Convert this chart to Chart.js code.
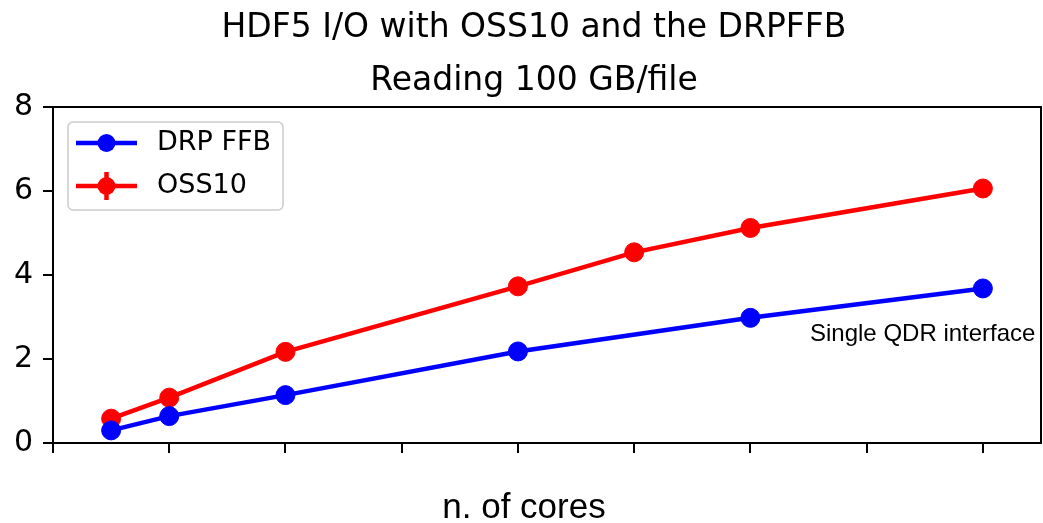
<!DOCTYPE html>
<html>
<head>
<meta charset="utf-8">
<script src="https://cdn.jsdelivr.net/npm/chart.js@4.4.1/dist/chart.umd.min.js"></script>
<style>
  body { margin:0; background:#fff; }
  canvas { display:block; }
</style>
</head>
<body>
<canvas id="grafico" width="1043" height="523"></canvas>
<script>
// dati
const coresOSS = [1, 2, 4, 8, 10, 12, 16];
const valoriOSS = [0.58, 1.08, 2.17, 3.73, 4.54, 5.12, 6.06];
const coresDRP = [1, 2, 4, 8, 12, 16];
const valoriDRP = [0.30, 0.64, 1.14, 2.18, 2.98, 3.68];
const xTicks = [0, 2, 4, 6, 8, 10, 12, 14, 16];
const yTicks = [0, 2, 4, 6, 8];
const titolo = ['HDF5 I/O with OSS10 and the DRPFFB', 'Reading 100 GB/file'];

function punti(xs, ys){
  return xs.map((x,i)=>({x:x, y:ys[i]}));
}

// titolo, bordi sopra e a destra, legenda e testi liberi
const extra = {
  id:'extra',
  afterDraw(chart){
    const ctx = chart.ctx, a = chart.chartArea;
    ctx.save();
    ctx.strokeStyle = '#000';
    ctx.lineWidth = 2;
    ctx.beginPath();
    ctx.moveTo(a.left, a.top);
    ctx.lineTo(a.right, a.top);
    ctx.lineTo(a.right, a.bottom);
    ctx.stroke();

    ctx.fillStyle = '#000';
    ctx.font = '33px "DejaVu Sans"';
    ctx.textAlign = 'center';
    ctx.textBaseline = 'alphabetic';
    ctx.fillText(titolo[0], 534, 37);
    ctx.fillText(titolo[1], 534, 90);

    // legenda
    ctx.fillStyle = 'rgba(255,255,255,0.8)';
    ctx.strokeStyle = '#cccccc';
    ctx.lineWidth = 1.5;
    ctx.beginPath();
    ctx.roundRect(68, 122, 215, 88, 5);
    ctx.fill();
    ctx.stroke();
    const righe = [143, 186];
    chart.data.datasets.forEach((ds,i)=>{
      const y = righe[i];
      ctx.strokeStyle = ds.borderColor;
      ctx.fillStyle = ds.borderColor;
      ctx.lineWidth = 4.5;
      ctx.beginPath();
      ctx.moveTo(76, y); ctx.lineTo(137, y);
      ctx.stroke();
      if(i===1){
        ctx.beginPath();
        ctx.moveTo(106.5, y-14); ctx.lineTo(106.5, y+14);
        ctx.stroke();
      }
      ctx.beginPath();
      ctx.arc(106.5, y, 9, 0, Math.PI*2);
      ctx.fill();
      ctx.fillStyle = '#000';
      ctx.font = '27px "DejaVu Sans"';
      ctx.textBaseline = 'middle';
      ctx.textAlign = 'left';
      ctx.fillText(ds.label, 157, y);
    });

    ctx.fillStyle = '#000';
    ctx.textBaseline = 'alphabetic';
    ctx.font = '24px "Liberation Sans"';
    ctx.textAlign = 'left';
    ctx.fillText('Single QDR interface', 810, 341);
    ctx.font = '35px "Liberation Sans"';
    ctx.textAlign = 'center';
    ctx.fillText('n. of cores', 524, 518);
    ctx.restore();
  }
};

new Chart(document.getElementById('grafico'), {
  type:'line',
  data:{
    datasets:[
      { label:'DRP FFB', data:punti(coresDRP, valoriDRP), borderColor:'#0000ff', backgroundColor:'#0000ff',
        borderWidth:4.5, pointRadius:9.5, pointBorderWidth:1, pointHoverRadius:9.5 },
      { label:'OSS10', data:punti(coresOSS, valoriOSS), borderColor:'#ff0000', backgroundColor:'#ff0000',
        borderWidth:4.5, pointRadius:9.5, pointBorderWidth:1, pointHoverRadius:9.5 }
    ]
  },
  options:{
    responsive:false,
    devicePixelRatio:1,
    animation:false,
    layout:{ autoPadding:false, padding:{left:0, right:2, top:107, bottom:0} },
    plugins:{
      legend:{ display:false },
      tooltip:{ enabled:false },
      title:{ display:false }
    },
    scales:{
      x:{ type:'linear', min:0, max:17,
        afterBuildTicks: s => { s.ticks = xTicks.map(v=>({value:v})); },
        afterFit: s => { s.height = 80; },
        ticks:{ display:false },
        grid:{ drawOnChartArea:false, tickLength:10, color:'#000', lineWidth:2 },
        border:{ color:'#000', width:2 } },
      y:{ min:0, max:8,
        afterBuildTicks: s => { s.ticks = yTicks.map(v=>({value:v})); },
        afterFit: s => { s.width = 53; },
        ticks:{ color:'#000', font:{family:'DejaVu Sans', size:30}, padding:10 },
        grid:{ drawOnChartArea:false, tickLength:10, color:'#000', lineWidth:2 },
        border:{ color:'#000', width:2 } }
    }
  },
  plugins:[extra]
});
</script>
</body>
</html>
